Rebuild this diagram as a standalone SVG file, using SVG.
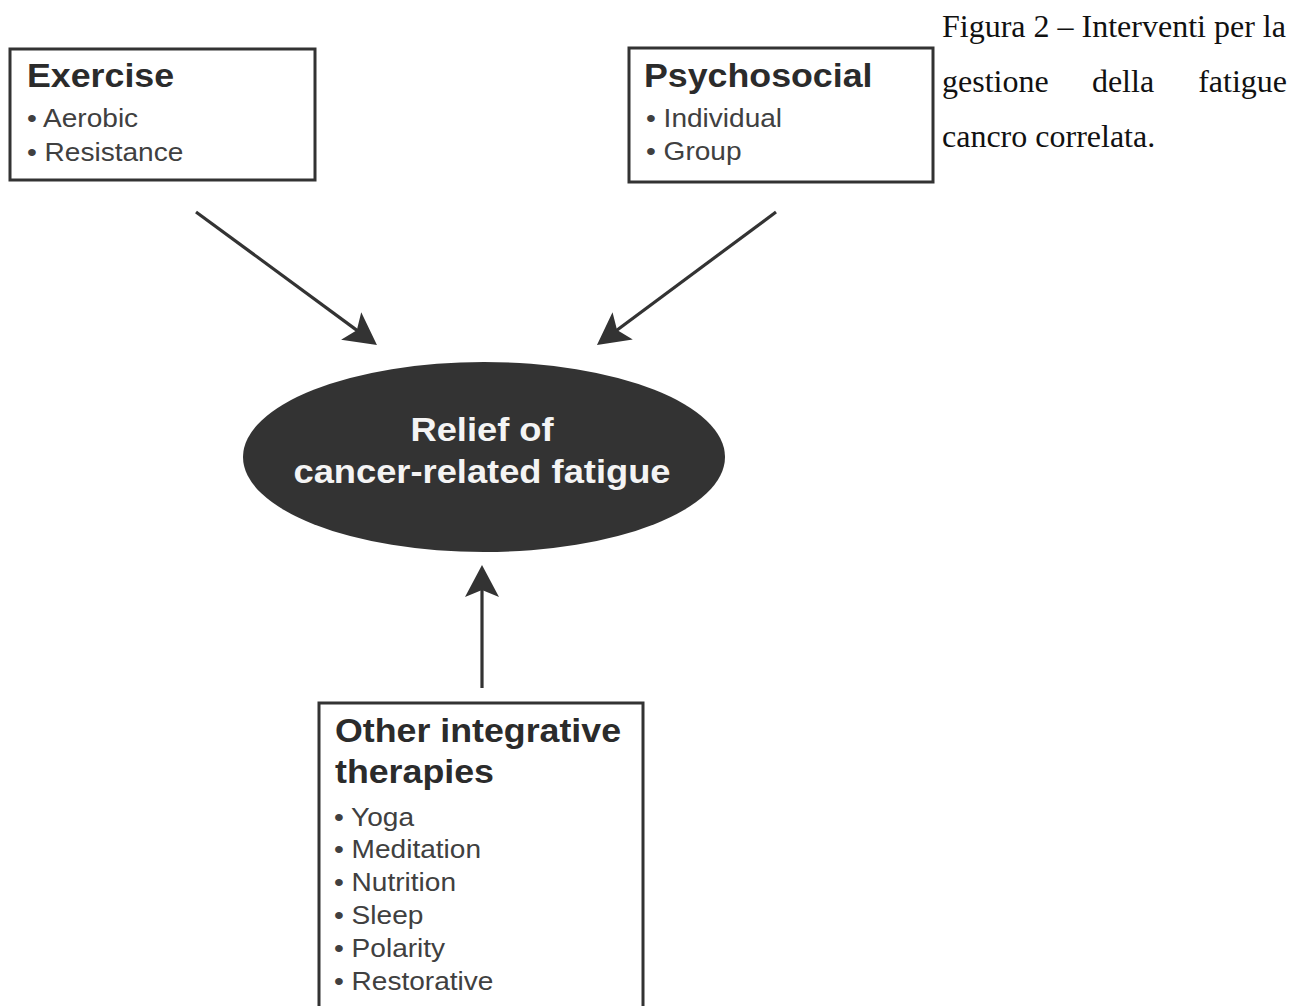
<svg xmlns="http://www.w3.org/2000/svg" width="1293" height="1006" viewBox="0 0 1293 1006">
  <style>
    .box { fill: #ffffff; stroke: #333333; stroke-width: 3; }
    .title { font-family: "Liberation Sans", Arial, sans-serif; font-weight: bold; font-size: 32.5px; fill: #2b2b2b; }
    .item { font-family: "Liberation Sans", Arial, sans-serif; font-size: 25.5px; fill: #404040; }
    .center { font-family: "Liberation Sans", Arial, sans-serif; font-weight: bold; font-size: 33px; fill: #f4f4f4; text-anchor: middle; }
    .caption { font-family: "Liberation Serif", "Times New Roman", serif; font-size: 32px; fill: #111111; }
    .conn { stroke: #333333; stroke-width: 3.2; fill: none; marker-end: url(#head); }
  </style>
  <defs>
    <marker id="head" viewBox="-25 -20 40 40" markerUnits="userSpaceOnUse" markerWidth="40" markerHeight="40" refX="0" refY="0" orient="auto">
      <path d="M10,0 L-22,-17 L-15,0 L-22,17 Z" fill="#333333"/>
    </marker>
  </defs>
  <rect x="0" y="0" width="1293" height="1006" fill="#ffffff"/>

  <g id="connectors">
    <line class="conn" x1="196" y1="212" x2="368.9" y2="339.1"/>
    <line class="conn" x1="776" y1="212" x2="605" y2="339"/>
    <line class="conn" x1="482" y1="688" x2="482" y2="575"/>
  </g>

  <g id="exercise">
    <rect class="box" x="10" y="49" width="305" height="131"/>
    <text class="title" transform="translate(27,87) scale(1.1,1)">Exercise</text>
    <text class="item" transform="translate(27,127) scale(1.1,1)">• Aerobic</text>
    <text class="item" transform="translate(27,161) scale(1.1,1)">• Resistance</text>
  </g>

  <g id="psychosocial">
    <rect class="box" x="629" y="48" width="304" height="134"/>
    <text class="title" transform="translate(644,87) scale(1.1,1)">Psychosocial</text>
    <text class="item" transform="translate(646,127) scale(1.1,1)">• Individual</text>
    <text class="item" transform="translate(646,160) scale(1.1,1)">• Group</text>
  </g>

  <g id="relief">
    <ellipse cx="484" cy="457" rx="241" ry="95" fill="#333333"/>
    <text class="center" transform="translate(482,441) scale(1.1,1)">Relief of</text>
    <text class="center" transform="translate(482,483) scale(1.1,1)">cancer-related fatigue</text>
  </g>

  <g id="other">
    <rect class="box" x="319" y="703" width="324" height="320"/>
    <text class="title" transform="translate(335,742) scale(1.1,1)">Other integrative</text>
    <text class="title" transform="translate(335,783) scale(1.1,1)">therapies</text>
    <text class="item" transform="translate(334,826) scale(1.1,1)">• Yoga</text>
    <text class="item" transform="translate(334,858) scale(1.1,1)">• Meditation</text>
    <text class="item" transform="translate(334,891) scale(1.1,1)">• Nutrition</text>
    <text class="item" transform="translate(334,924) scale(1.1,1)">• Sleep</text>
    <text class="item" transform="translate(334,957) scale(1.1,1)">• Polarity</text>
    <text class="item" transform="translate(334,990) scale(1.1,1)">• Restorative</text>
  </g>

  <g id="caption">
    <text class="caption" x="942" y="37">Figura 2 – Interventi per la</text>
    <text class="caption" x="942" y="92">gestione</text>
    <text class="caption" x="1123" y="92" text-anchor="middle">della</text>
    <text class="caption" x="1287" y="92" text-anchor="end">fatigue</text>
    <text class="caption" x="942" y="147">cancro correlata.</text>
  </g>
</svg>
